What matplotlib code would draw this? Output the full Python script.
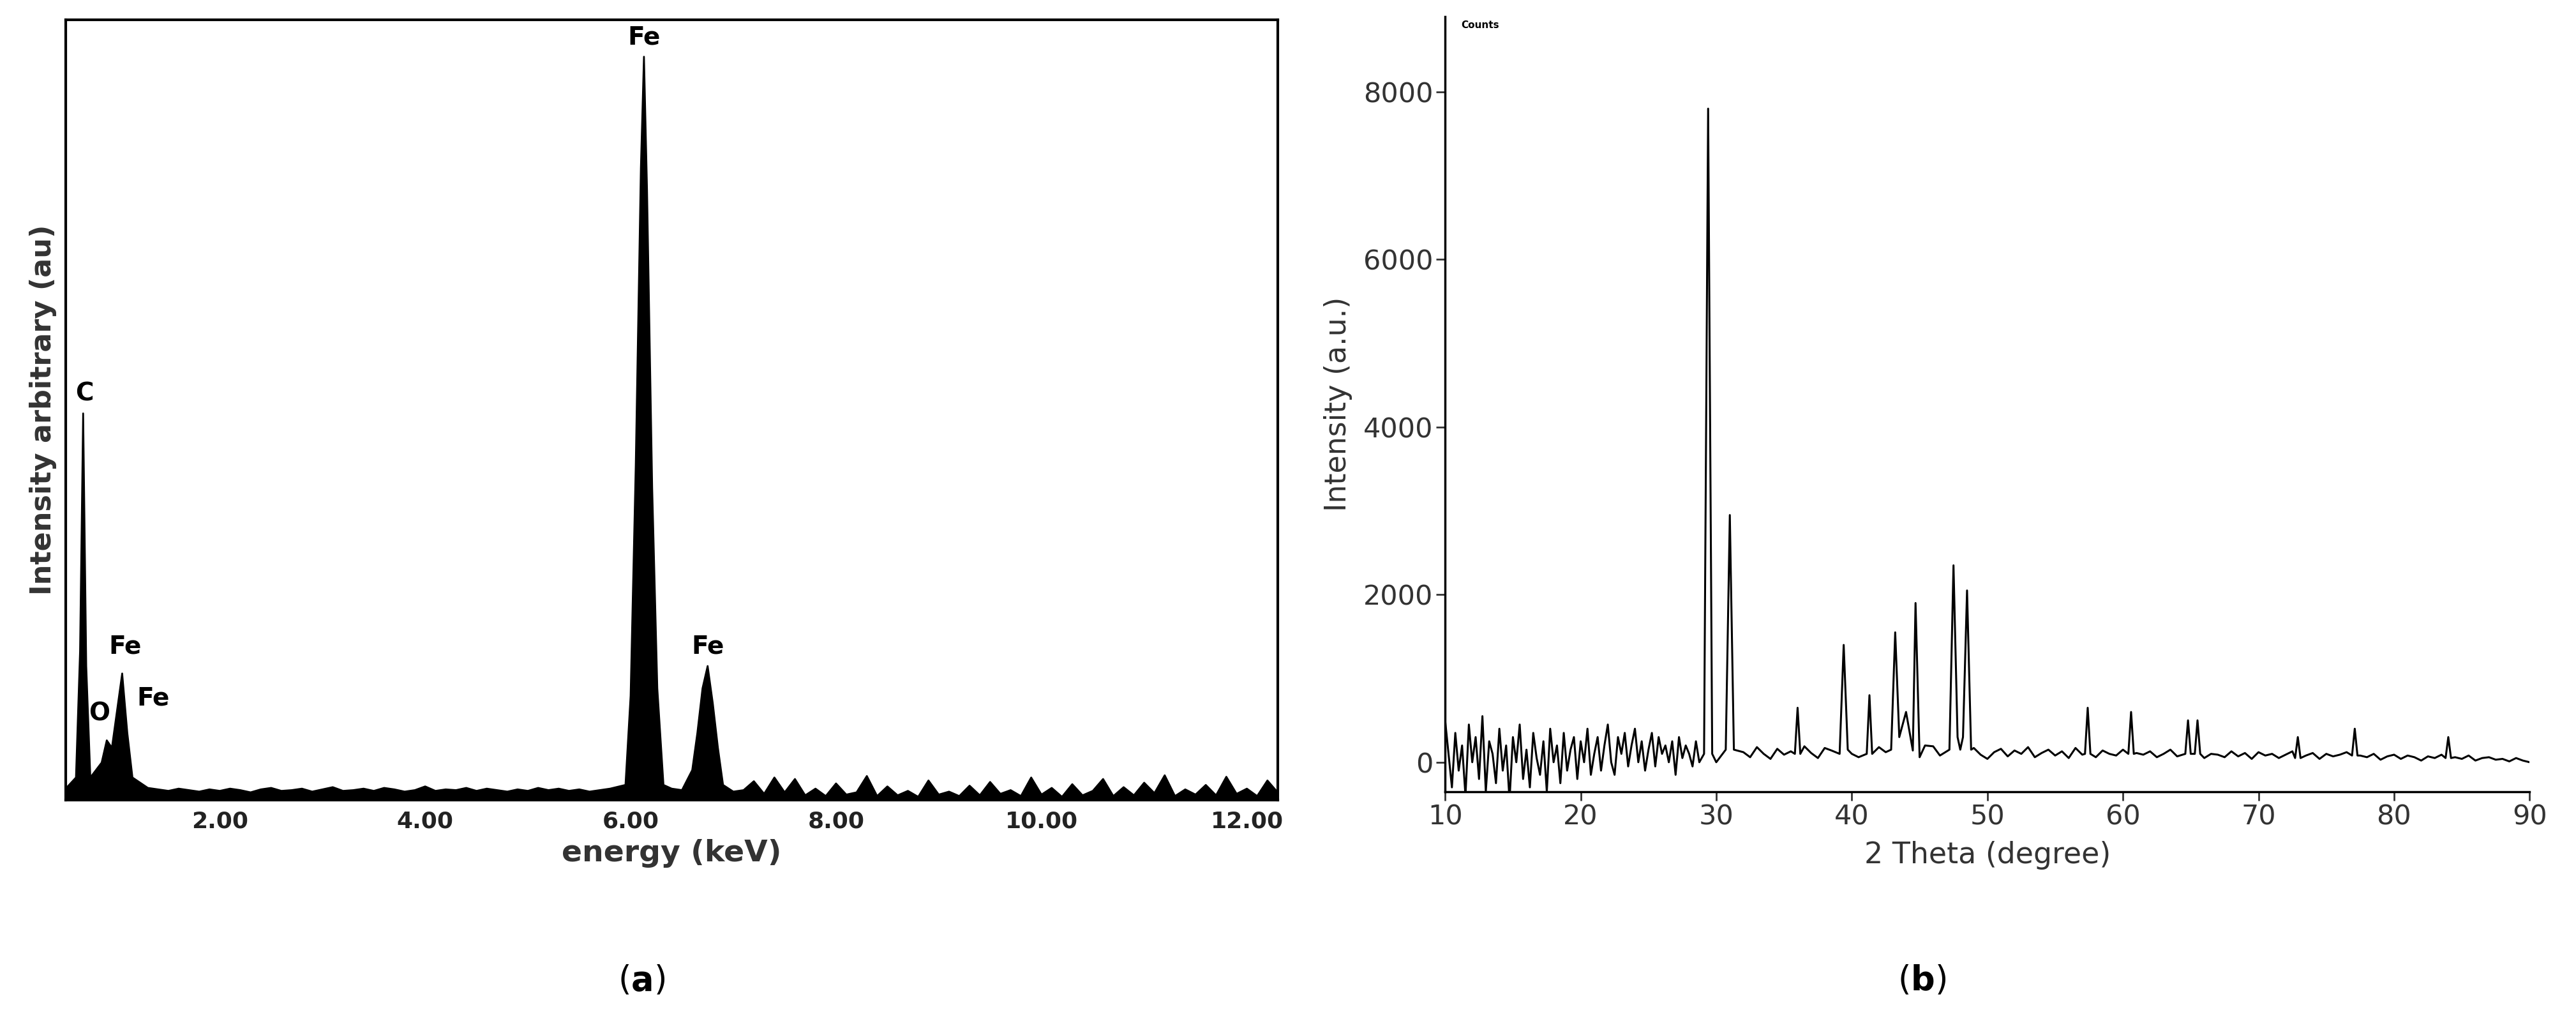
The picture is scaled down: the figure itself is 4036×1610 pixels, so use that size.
import matplotlib
matplotlib.use("Agg")
import matplotlib.pyplot as plt
import numpy as np

# ---------- EDS data (a) ----------
eds_base_x = [round(0.5 + 0.1*i, 2) for i in range(119)]
eds_base_y = [1.5,2,1.8,2.5,3,2,1.5,1.2,1.6,1.4,1.2,1.5,1.3,1.1,1.4,1.2,1.5,1.3,1.0,1.4,
              1.6,1.2,1.3,1.5,1.1,1.4,1.7,1.2,1.3,1.5,1.2,1.6,1.4,1.1,1.3,1.8,1.2,1.4,1.3,1.6,
              1.2,1.5,1.3,1.1,1.4,1.2,1.6,1.3,1.5,1.2,1.4,1.1,1.3,1.5,1.2,1.4,1.6,1.3,1.2,1.5,
              1.3,1.6,1.4,1.5,1.2,1.1,1.3,2.5,0.8,3,1.0,2.8,0.6,1.5,0.5,2.2,0.7,1.0,3.2,0.5,
              1.8,0.6,1.2,0.4,2.6,0.7,1.1,0.5,1.9,0.6,2.4,0.8,1.3,0.5,3.0,0.7,1.6,0.4,2.1,0.6,
              1.2,2.8,0.5,1.7,0.6,2.3,0.9,3.3,0.5,1.4,0.7,2.0,0.6,3.1,0.8,1.5,0.5,2.6,1.0]
eds_peak_x = [0.60, 0.64, 0.67, 0.70, 0.74, 0.85, 0.90, 0.95, 1.00, 1.05, 1.10, 1.15,
              5.95, 6.00, 6.05, 6.10, 6.13, 6.16, 6.21, 6.26, 6.32, 6.60, 6.65, 6.70, 6.75, 6.80, 6.85, 6.90]
eds_peak_y = [3, 20, 52, 18, 3, 5, 8, 7, 12, 17, 9, 3,
              2, 14, 45, 85, 100, 82, 42, 15, 2, 4, 9, 15, 18, 13, 7, 2]
eds_labels = [("C", 0.68, 53), ("O", 0.83, 10), ("Fe", 1.08, 19), ("Fe", 1.35, 12),
              ("Fe", 6.13, 101), ("Fe", 6.75, 19)]
eds_ticks = [2, 4, 6, 8, 10, 12]

# ---------- XRD data (b) ----------
xrd_lo_y = [500,100,-300,350,-100,200,-400,450,0,300,-200,550,-350,250,100,-250,400,-100,200,-450,
            300,0,450,-200,150,-300,350,50,-150,250,-350,400,0,200,-250,350,-100,150,300,-200,
            250,0,400,-150,100,300,-100,200,450,0,-150,300,100,350,-50,200,400,0,250,-100,
            150,350,-50,300,100,200,0,250,-150,300,50,200,100,-50,250,0,150,-100,100,50,0]
xrd_lo_x = [10 + 0.25*i for i in range(81)]
xrd_hi_x = [30.5 + 0.5*i for i in range(120)]
xrd_hi_y = [150,80,200,120,60,180,100,40,160,90,130,70,190,110,50,170,140,80,200,100,
            60,150,90,180,120,70,160,100,140,60,110,190,80,130,50,150,100,170,90,40,
            120,160,70,140,100,180,60,110,150,80,130,50,170,90,120,60,140,100,80,150,
            40,110,90,130,60,100,150,70,120,80,140,50,100,90,60,130,70,110,40,120,
            80,100,50,90,130,60,80,110,40,100,70,90,120,50,80,60,100,30,70,90,
            40,80,60,20,70,50,90,30,60,40,80,20,50,60,30,40,10,50,20,0]
xrd_peak_x = [29.1, 29.4, 29.7, 30.7, 31.0, 31.3, 35.8, 36.0, 36.2, 39.1, 39.4, 39.7,
              41.1, 41.3, 41.5, 42.9, 43.2, 43.5, 44.0, 44.7, 45.4, 47.2, 47.5, 47.8,
              48.2, 48.5, 48.8, 57.2, 57.4, 57.6, 60.4, 60.6, 60.8, 64.6, 64.8, 65.0,
              65.3, 65.5, 65.7, 72.7, 72.9, 73.1, 76.9, 77.1, 77.3, 83.8, 84.0, 84.2]
xrd_peak_y = [100, 7800, 100, 150, 2950, 150, 100, 650, 100, 100, 1400, 150,
              100, 800, 100, 150, 1550, 300, 600, 1900, 200, 150, 2350, 300,
              300, 2050, 150, 100, 650, 100, 100, 600, 100, 100, 500, 100,
              100, 500, 100, 50, 300, 50, 80, 400, 80, 50, 300, 50]
xrd_xticks = [10, 20, 30, 40, 50, 60, 70, 80, 90]
xrd_yticks = [0, 2000, 4000, 6000, 8000]


def merge(bx, by, px, py, gap):
    bx, by, px = np.asarray(bx), np.asarray(by), np.asarray(px)
    keep = np.array([np.min(np.abs(px - x)) > gap for x in bx])
    x = np.concatenate([bx[keep], px])
    y = np.concatenate([by[keep], np.asarray(py)])
    o = np.argsort(x, kind="stable")
    return x[o], y[o]


fig = plt.figure(figsize=(40.36, 16.10), dpi=100)

# ---- panel a ----
ax1 = fig.add_axes([0.0255, 0.222, 0.4705, 0.759])
ex, ey = merge(eds_base_x, eds_base_y, eds_peak_x, eds_peak_y, 0.06)
ax1.fill_between(ex, 0, ey, color="black", lw=0)
ax1.plot(ex, ey, color="black", lw=2)
ax1.set_xlim(0.5, 12.3)
ax1.set_ylim(0, 105)
ax1.set_yticks([])
ax1.set_xticks(eds_ticks)
ax1.set_xticklabels([f"{t:.2f}" for t in eds_ticks], fontsize=26, fontweight="bold", color="#222222")
ax1.tick_params(axis="x", length=0, pad=12)
for s in ax1.spines.values():
    s.set_linewidth(3)
for t, x, y in eds_labels:
    ax1.text(x, y, t, fontsize=28, fontweight="bold", ha="center", va="bottom")
ax1.set_xlabel("energy (keV)", fontsize=34, fontweight="bold", color="#333333", labelpad=8)
ax1.set_ylabel("Intensity arbitrary (au)", fontsize=32, fontweight="bold", color="#333333", labelpad=10)

# ---- panel b ----
ax2 = fig.add_axes([0.561, 0.23, 0.421, 0.754])
xx, yy = merge(xrd_lo_x + xrd_hi_x, xrd_lo_y + xrd_hi_y, xrd_peak_x, xrd_peak_y, 0.2)
ax2.plot(xx, yy, color="black", lw=2.2)
ax2.set_xlim(10, 90)
ax2.set_ylim(-350, 8900)
ax2.set_xticks(xrd_xticks)
ax2.set_yticks(xrd_yticks)
ax2.tick_params(labelsize=31, width=2, length=10, color="#333333", labelcolor="#333333")
ax2.spines["top"].set_visible(False)
ax2.spines["right"].set_visible(False)
for s in ("left", "bottom"):
    ax2.spines[s].set_linewidth(2.5)
ax2.set_xlabel("2 Theta (degree)", fontsize=33, color="#333333", labelpad=12)
ax2.set_ylabel("Intensity (a.u.)", fontsize=33, color="#333333", labelpad=12)
ax2.text(0.015, 0.995, "Counts", transform=ax2.transAxes, fontsize=11, fontweight="bold", va="top")

fig.text(0.249, 0.03, r"($\mathbf{a}$)", fontsize=38, ha="center", va="bottom")
fig.text(0.746, 0.03, r"($\mathbf{b}$)", fontsize=38, ha="center", va="bottom")

fig.savefig("out.png", dpi=100)
